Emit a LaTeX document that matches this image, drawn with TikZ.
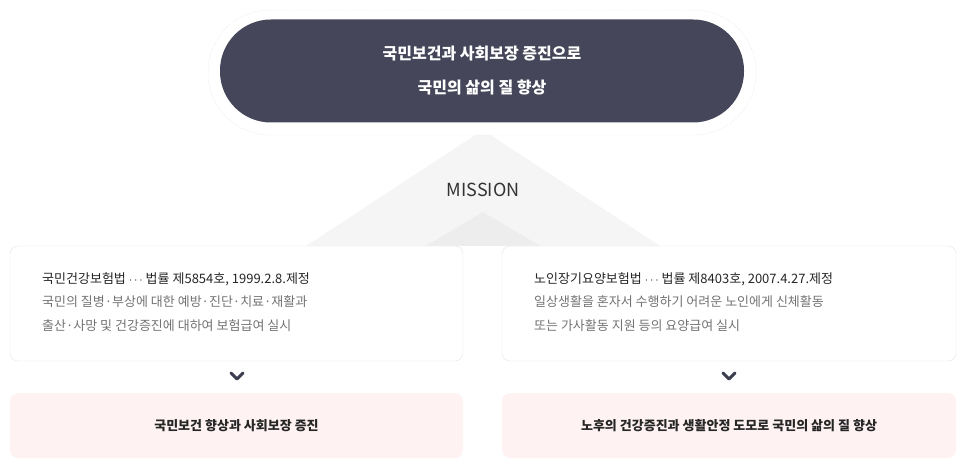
\documentclass[tikz,border=0pt]{standalone}
\usepackage{fontspec}
\setmainfont{Noto Sans CJK KR}
\begin{document}
\begin{tikzpicture}[x=1pt,y=-1pt,
  card/.style={draw=black!10,fill=white,rounded corners=8pt},
  pinkbox/.style={fill=red!5!white,rounded corners=8pt},
  txt/.style={anchor=west,inner sep=0,font=\fontsize{13}{15}\selectfont},
  chev/.style={line width=3pt,color={rgb,255:red,60;green,62;blue,80}}]
\useasboundingbox (0,0) rectangle (966,470);
\fill[black!4] (483,130) -- (660,246) -- (306,246) -- cycle;
\fill[black!7] (483,212) -- (540,246) -- (426,246) -- cycle;
\node (outer) [draw=black!15,densely dotted,fill=white,rounded corners=62pt,minimum width=548pt,minimum height=125pt] at (482,72.5) {};
\node (top) [fill={rgb,255:red,69;green,70;blue,89},rounded corners=51pt,minimum width=524pt,minimum height=103pt,text=white,align=center,font=\bfseries\fontsize{16}{34}\selectfont] at (482,71) {국민보건과 사회보장 증진으로\\국민의 삶의 질 향상};
\node (mission) [font=\fontsize{18}{20}\selectfont,text=black!80] at (483,190) {MISSION};
\node (L) [card,minimum width=453pt,minimum height=115pt] at (236.5,303.5) {};
\node (R) [card,minimum width=454pt,minimum height=115pt] at (729,303.5) {};
\node[txt,text=black!85] at (42,279) {국민건강보험법 $\cdots$ 법률 제5854호, 1999.2.8.제정};
\node[txt,text=black!55] at (42,302) {국민의 질병·부상에 대한 예방·진단·치료·재활과};
\node[txt,text=black!55] at (42,326) {출산·사망 및 건강증진에 대하여 보험급여 실시};
\node[txt,text=black!85] at (534,279) {노인장기요양보험법 $\cdots$ 법률 제8403호, 2007.4.27.제정};
\node[txt,text=black!55] at (534,302) {일상생활을 혼자서 수행하기 어려운 노인에게 신체활동};
\node[txt,text=black!55] at (534,326) {또는 가사활동 지원 등의 요양급여 실시};
\node (LB) [pinkbox,minimum width=453pt,minimum height=65pt,font=\bfseries\fontsize{13}{15}\selectfont,text=black!85] at (236.5,425.5) {국민보건 향상과 사회보장 증진};
\node (RB) [pinkbox,minimum width=454pt,minimum height=65pt,font=\bfseries\fontsize{13}{15}\selectfont,text=black!85] at (729,425.5) {노후의 건강증진과 생활안정 도모로 국민의 삶의 질 향상};
\draw[chev,line cap=round,line join=round] (231,373) -- (237,379) -- (243,373);
\draw[chev,line cap=round,line join=round] (723,373) -- (729,379) -- (735,373);
\end{tikzpicture}
\end{document}
